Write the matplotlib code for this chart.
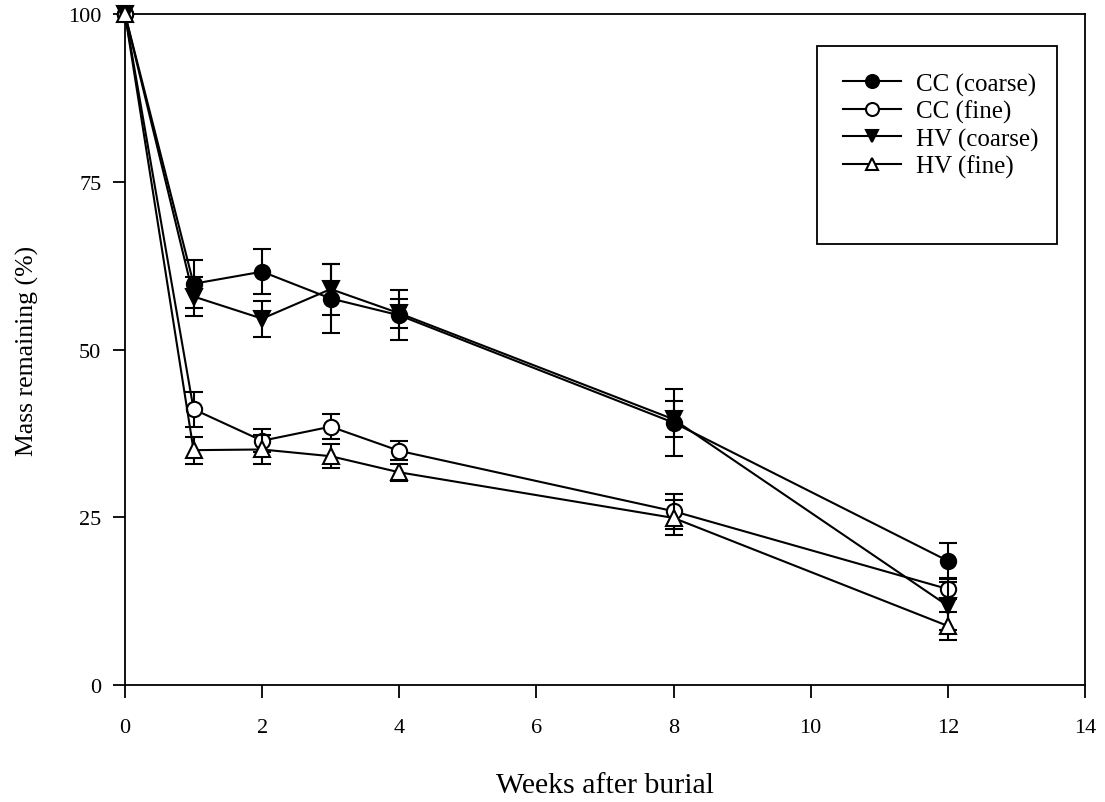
import numpy as np
import matplotlib
matplotlib.use("Agg")
import matplotlib.pyplot as plt
from matplotlib.patches import Rectangle

# Litter-bag decomposition: mass remaining over time
weeks = [0, 1, 2, 3, 4, 8, 12]

cc_coarse = [100, 59.8, 61.6, 57.6, 55.1, 39.1, 18.5]
cc_coarse_se = [np.nan, 3.6, 3.4, 5.2, 3.7, 5.0, 2.6]

cc_fine = [100, 41.1, 36.4, 38.5, 34.9, 25.9, 14.3]
cc_fine_se = [np.nan, 2.6, 1.7, 1.9, 1.4, 2.6, 1.5]

hv_coarse = [100, 57.9, 54.6, 59.0, 55.4, 39.6, 11.8]
hv_coarse_se = [np.nan, 2.85, 2.7, 3.8, 2.2, 2.7, 3.6]

hv_fine = [100, 35.0, 35.1, 34.1, 31.7, 24.9, 8.8]
hv_fine_se = [np.nan, 2.0, 2.1, 1.8, 1.3, 2.6, 2.1]

labels = ["CC (coarse)", "CC (fine)", "HV (coarse)", "HV (fine)"]
x_ticks = [0, 2, 4, 6, 8, 10, 12, 14]
y_ticks = [0, 25, 50, 75, 100]

plt.rcParams["font.family"] = ["Liberation Serif", "DejaVu Serif"]

fig = plt.figure(figsize=(11.05, 8.03), dpi=100)
ax = fig.add_axes([0.1131, 0.1457, 0.8688, 0.8356])

series = [
    (cc_coarse, cc_coarse_se, "o", "black"),
    (cc_fine, cc_fine_se, "o", "white"),
    (hv_coarse, hv_coarse_se, "v", "black"),
    (hv_fine, hv_fine_se, "^", "white"),
]

lw = 1.5
handles = []
for i, ((vals, se, mk, face), lab) in enumerate(zip(series, labels)):
    z = 3 + 2 * i
    ax.errorbar(weeks, vals, yerr=se, fmt="none", ecolor="black",
                elinewidth=lw, capsize=6.5, capthick=lw, zorder=z,
                clip_on=False)
    h, = ax.plot(weeks, vals, color="black", lw=lw, marker=mk,
                 markersize=11, markerfacecolor=face,
                 markeredgecolor="black", markeredgewidth=1.5,
                 zorder=z + 0.5, clip_on=False, label=lab)
    handles.append(h)

ax.set_xlim(0, 14)
ax.set_ylim(0, 100)
ax.set_xticks(x_ticks)
ax.set_yticks(y_ticks)
ax.tick_params(direction="out", length=9, width=1.3, labelsize=16)
ax.tick_params(axis="x", pad=15)
ax.tick_params(axis="y", pad=8)
for sp in ax.spines.values():
    sp.set_linewidth(1.3)

ax.set_xlabel("Weeks after burial", fontsize=21.5, labelpad=25)
ax.set_ylabel("Mass remaining (%)", fontsize=18.5, labelpad=21)

# Legend box (drawn separately so it can hold extra blank space below)
box = Rectangle((0.7208, 0.6572), 0.25, 0.2951, transform=ax.transAxes,
                facecolor="white", edgecolor="black", linewidth=1.3,
                zorder=19)
ax.add_patch(box)

leg = ax.legend(handles=handles, loc="upper left",
                bbox_to_anchor=(0.7208, 0.9523), fontsize=18,
                frameon=False, markerscale=0.85, handlelength=2.3,
                handletextpad=0.6, labelspacing=0.17, borderpad=1.06,
                borderaxespad=0)
leg.set_zorder(20)

fig.savefig("out.png", dpi=100)
